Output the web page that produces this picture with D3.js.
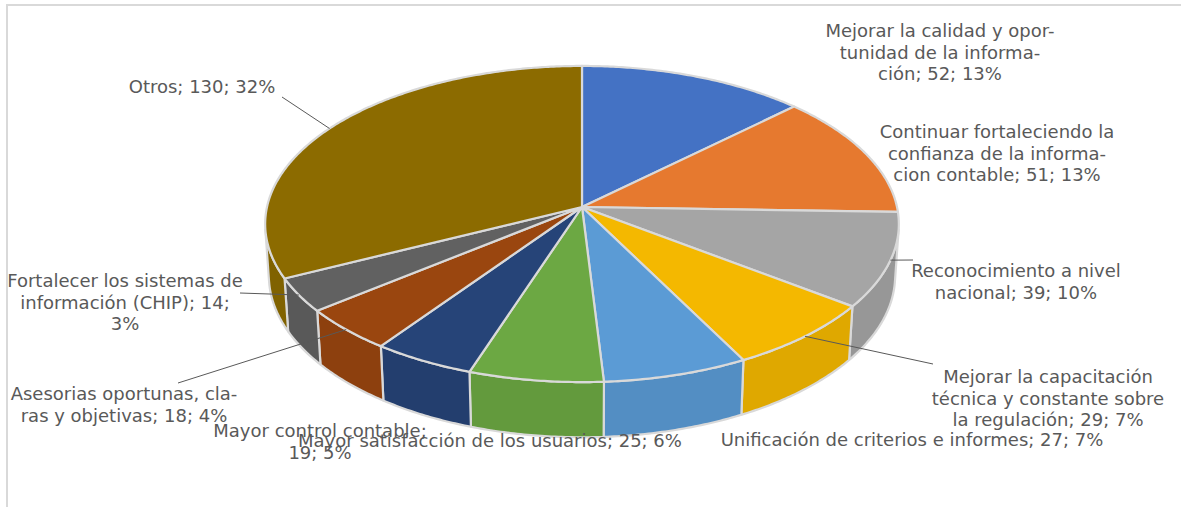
<!DOCTYPE html>
<html>
<head>
<meta charset="utf-8">
<script src="https://cdn.jsdelivr.net/npm/d3@7"></script>
<style>
  html, body { margin: 0; padding: 0; background: #fff; }
  svg { display: block; }
</style>
</head>
<body>
<svg id="chart" width="1181" height="507"></svg>
<script>
// ---- data ----
const categories = [
  "Mejorar la calidad y oportunidad de la información",
  "Continuar fortaleciendo la confianza de la informacion contable",
  "Reconocimiento a nivel nacional",
  "Mejorar la capacitación técnica y constante sobre la regulación",
  "Unificación de criterios e informes",
  "Mayor satisfacción de los usuarios",
  "Mayor control contable",
  "Asesorias oportunas, claras y objetivas",
  "Fortalecer los sistemas de información (CHIP)",
  "Otros"
];
const values = [52, 51, 39, 29, 27, 25, 19, 18, 14, 130];

// wrapped label text; {v} = value, {p} = rounded percentage
const labelLines = [
  ["Mejorar la calidad y opor-", "tunidad de la informa-", "ción; {v}; {p}%"],
  ["Continuar fortaleciendo la", "confianza de la informa-", "cion contable; {v}; {p}%"],
  ["Reconocimiento a nivel", "nacional; {v}; {p}%"],
  ["Mejorar la capacitación", "técnica y constante sobre", "la regulación; {v}; {p}%"],
  ["Unificación de criterios e informes; {v}; {p}%"],
  ["Mayor satisfacción de los usuarios; {v}; {p}%"],
  ["Mayor control contable;", "{v}; {p}%"],
  ["Asesorias oportunas, cla-", "ras y objetivas; {v}; {p}%"],
  ["Fortalecer los sistemas de", "información (CHIP); {v};", "{p}%"],
  ["Otros; {v}; {p}%"]
];

// ---- styling / layout ----
const colors = ["#4472C4", "#E6792F", "#A5A5A5", "#F4B800", "#5B9BD5",
                "#6CA843", "#264478", "#9A460F", "#616161", "#8C6B00"];
// label anchor: centre x, first baseline y
const labelPos = [[940, 37], [997, 138], [1016, 277], [1048, 383], [912, 446],
                  [490, 447], [320, 437], [124, 400], [125, 287], [202, 93]];
// outer end of leader lines (null = no leader)
const leaderEnds = [null, null, [913, 260], [933, 364], null, null, null,
                    [178, 383], [240, 293], [282, 97]];

const svg = d3.select("#chart");

// chart area frame
svg.append("path")
  .attr("d", "M7,520V5H1200")
  .attr("fill", "none")
  .attr("stroke", "#D9D9D9")
  .attr("stroke-width", 2);

// ---- 3D perspective projection of a tilted disc ----
const cx = 582, cy = 207, f = 315;
const sinT = 0.496, cosT = Math.sqrt(1 - sinT * sinT);
const D = 8.07;     // camera distance (radius units)
const H = 0.19;     // disc thickness (radius units)

function proj(a, z) {
  const X = Math.sin(a), Y = -Math.cos(a);
  const v = Y * sinT - z * cosT;
  const d = Y * cosT + z * sinT;
  const s = D / (D - d);
  return [cx + f * X * s, cy + f * v * s];
}
function arcPts(a0, a1, z) {
  const n = Math.max(2, Math.ceil(Math.abs(a1 - a0) / 0.01));
  const pts = [];
  for (let i = 0; i <= n; i++) pts.push(proj(a0 + (a1 - a0) * i / n, z));
  return pts;
}

const total = d3.sum(values);
const pie = d3.pie().sort(null).value(d => d)(values);

// visible part of the outer wall (faces toward the camera)
const aMin = Math.acos(-1 / (D * cosT));
const aMax = 2 * Math.PI - aMin;

const line = d3.line();
const edge = "#D9D9D9";

// outer walls
const walls = svg.append("g");
pie.forEach((p, i) => {
  const a0 = Math.max(p.startAngle, aMin), a1 = Math.min(p.endAngle, aMax);
  if (a0 >= a1) return;
  const top = arcPts(a0, a1, 0);
  const bot = arcPts(a1, a0, -H);
  walls.append("path")
    .attr("d", line(top.concat(bot)) + "Z")
    .attr("fill", d3.color(colors[i]).darker(0.25))
    .attr("stroke", edge)
    .attr("stroke-width", 2.2)
    .attr("stroke-linejoin", "round");
});

// top faces
const tops = svg.append("g");
pie.forEach((p, i) => {
  const pts = [[cx, cy]].concat(arcPts(p.startAngle, p.endAngle, 0));
  tops.append("path")
    .attr("d", line(pts) + "Z")
    .attr("fill", colors[i])
    .attr("stroke", edge)
    .attr("stroke-width", 2.2)
    .attr("stroke-linejoin", "round");
});

// ---- labels ----
const lh = 21.5;
const labels = svg.append("g")
  .attr("font-family", "'DejaVu Sans', Verdana, sans-serif")
  .attr("font-size", 18)
  .attr("fill", "#595959")
  .attr("text-anchor", "middle");

pie.forEach((p, i) => {
  const pct = Math.round(values[i] / total * 100);
  const [lx, ly] = labelPos[i];
  const t = labels.append("text").attr("x", lx).attr("y", ly);
  labelLines[i].forEach((s, j) => {
    t.append("tspan")
      .attr("x", lx)
      .attr("y", ly + j * lh)
      .text(s.replace("{v}", values[i]).replace("{p}", pct));
  });
  if (leaderEnds[i]) {
    const mid = (p.startAngle + p.endAngle) / 2;
    const rim = proj(mid, 0);
    svg.append("line")
      .attr("x1", leaderEnds[i][0]).attr("y1", leaderEnds[i][1])
      .attr("x2", rim[0]).attr("y2", rim[1])
      .attr("stroke", "#595959")
      .attr("stroke-width", 1);
  }
});
</script>
</body>
</html>
